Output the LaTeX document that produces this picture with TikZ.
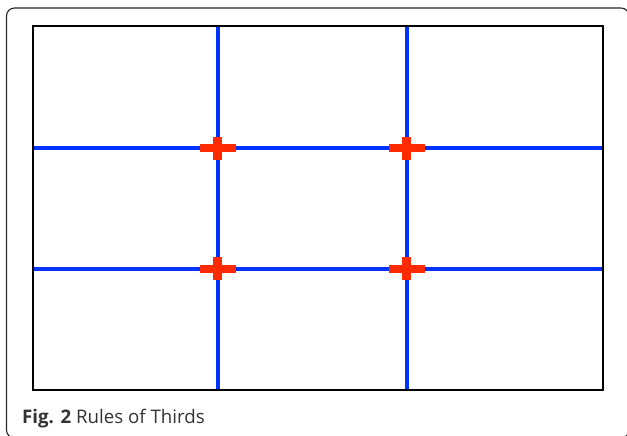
\documentclass[tikz,border=0pt]{standalone}
\usepackage{fontspec}
\setmainfont{Open Sans}
\usepackage{tikz}
\usetikzlibrary{positioning,calc}
\definecolor{thirdblue}{HTML}{0033FF}
\definecolor{crossred}{HTML}{FF2A00}
\definecolor{captiongray}{HTML}{333333}

\begin{document}
\begin{tikzpicture}[x=1pt,y=-1pt,
  frame/.style={draw=black!85,line width=1.1pt,rounded corners=8pt},
  canvas/.style={draw=black,line width=2pt},
  thirdline/.style={draw=thirdblue,line width=4pt},
  crossbar/.style={fill=crossred,draw=none}]
  \useasboundingbox (0,0) rectangle (627,436);

  % outer caption frame, cut by the page edge
  \begin{scope}
      \clip (0,0) rectangle (627,436);
      \draw[frame] (6.5,8) rectangle (629,438);
  \end{scope}

  % corners of the canvas
  \coordinate (tl) at (33,26);
  \coordinate (br) at (602.5,390);

  % thirds lines
  \foreach \x [count=\i] in {217.5,406.5}
      \draw[thirdline] (\x,26) coordinate (v\i top) -- (\x,390) coordinate (v\i bot);
  \foreach \y [count=\j] in {148,268.5}
      \draw[thirdline] (33,\y) coordinate (h\j left) -- (602.5,\y) coordinate (h\j right);

  % canvas border on top of the line ends
  \draw[canvas] (tl) rectangle (br);

  % red crosses at the four power points
  \foreach \i in {1,2}
    \foreach \j in {1,2} {
      \coordinate (p\i\j) at (intersection of v\i top--v\i bot and h\j left--h\j right);
      \fill[crossbar] ($(p\i\j)+(-18,-4)$) rectangle ($(p\i\j)+(18,4)$);
      \fill[crossbar] ($(p\i\j)+(-4.5,-11.5)$) rectangle ($(p\i\j)+(4.5,11.5)$);
    }

  % caption
  \node[anchor=base west,inner sep=0pt,text=captiongray,font=\fontsize{18.7}{21}\selectfont] (caption) at (22,423.3)
      {\textbf{Fig. 2} Rules of Thirds};
\end{tikzpicture}
\end{document}
